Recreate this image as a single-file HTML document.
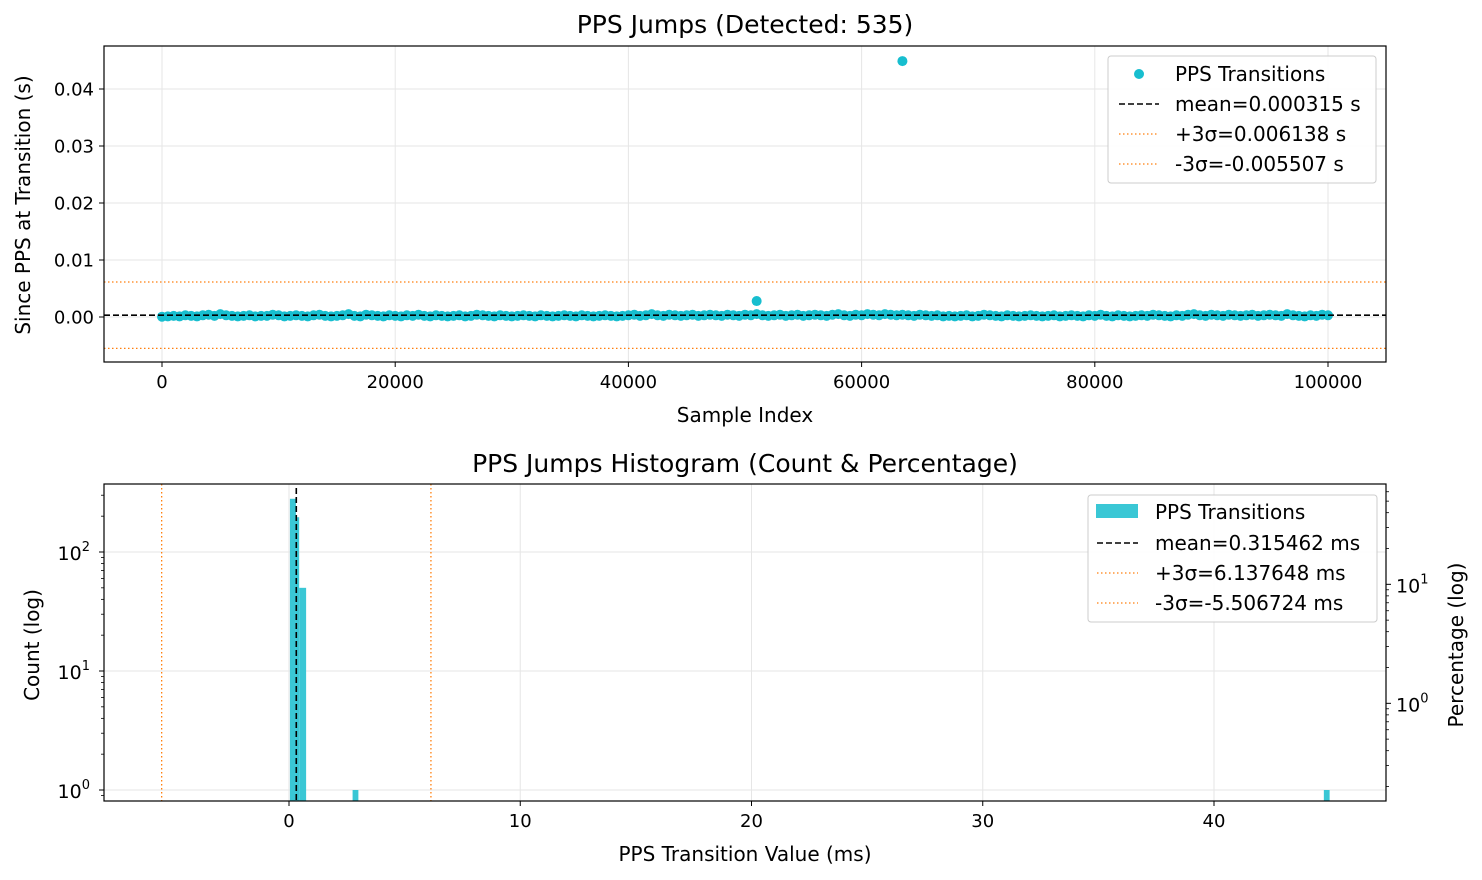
<!DOCTYPE html>
<html><head><meta charset="utf-8">
<style>
html,body{margin:0;padding:0;background:#fff;}
svg{display:block;font-family:"DejaVu Sans","Liberation Sans",sans-serif;}
</style></head>
<body>
<svg id="fig" width="1482" height="880" xmlns="http://www.w3.org/2000/svg">
<rect x="0" y="0" width="1482" height="880" fill="#fff"/>
<g id="topPanel"></g>
<g id="botPanel"></g>
</svg>
<script>
// ---------- data: top scatter ----------
const scatterIdx = [0,500,1000,1500,2000,2500,3000,3500,4000,4500,5000,5500,6000,6500,7000,7500,8000,8500,9000,9500,10000,10500,11000,11500,12000,12500,13000,13500,14000,14500,15000,15500,16000,16500,17000,17500,18000,18500,19000,19500,20000,20500,21000,21500,22000,22500,23000,23500,24000,24500,25000,25500,26000,26500,27000,27500,28000,28500,29000,29500,30000,30500,31000,31500,32000,32500,33000,33500,34000,34500,35000,35500,36000,36500,37000,37500,38000,38500,39000,39500,40000,40500,41000,41500,42000,42500,43000,43500,44000,44500,45000,45500,46000,46500,47000,47500,48000,48500,49000,49500,50000,50500,51000,51500,52000,52500,53000,53500,54000,54500,55000,55500,56000,56500,57000,57500,58000,58500,59000,59500,60000,60500,61000,61500,62000,62500,63000,63500,64000,64500,65000,65500,66000,66500,67000,67500,68000,68500,69000,69500,70000,70500,71000,71500,72000,72500,73000,73500,74000,74500,75000,75500,76000,76500,77000,77500,78000,78500,79000,79500,80000,80500,81000,81500,82000,82500,83000,83500,84000,84500,85000,85500,86000,86500,87000,87500,88000,88500,89000,89500,90000,90500,91000,91500,92000,92500,93000,93500,94000,94500,95000,95500,96000,96500,97000,97500,98000,98500,99000,99500,100000];
const scatterVal = [0.00005,0.0001,0.0002,0.0001,0.0003,0.0002,0.0001,0.0003,0.0004,0.0002,0.0005,0.0003,0.0002,0.0001,0.0002,0.0003,0.0001,0.0002,0.0002,0.0004,0.0003,0.0001,0.0002,0.0003,0.0002,0.0001,0.0003,0.0004,0.0002,0.0001,0.0002,0.0003,0.0005,0.0002,0.0001,0.0004,0.0003,0.0002,0.0001,0.0003,0.0002,0.0001,0.0003,0.0002,0.0004,0.0002,0.0001,0.0003,0.0002,0.0001,0.0002,0.0003,0.0001,0.0002,0.0004,0.0003,0.0002,0.0001,0.0003,0.0002,0.0001,0.0002,0.0003,0.0002,0.0001,0.0003,0.0002,0.0001,0.0002,0.0003,0.0002,0.0001,0.0003,0.0002,0.0001,0.0002,0.0003,0.0002,0.0001,0.0002,0.0003,0.0004,0.0002,0.0003,0.0005,0.0003,0.0002,0.0004,0.0003,0.0002,0.0003,0.0004,0.0002,0.0003,0.0004,0.0003,0.0002,0.0004,0.0003,0.0002,0.0004,0.0003,0.0005,0.0003,0.0002,0.0003,0.0004,0.0002,0.0003,0.0004,0.0002,0.0003,0.0004,0.0003,0.0002,0.0004,0.0005,0.0003,0.0002,0.0004,0.0003,0.0005,0.0004,0.0003,0.0005,0.0004,0.0003,0.0004,0.0003,0.0002,0.0004,0.0003,0.0002,0.0003,0.0001,0.0002,0.0001,0.0002,0.0003,0.0001,0.0002,0.0004,0.0003,0.0002,0.0001,0.0003,0.0002,0.0001,0.0002,0.0003,0.0002,0.0001,0.0002,0.0003,0.0001,0.0002,0.0003,0.0002,0.0001,0.0003,0.0002,0.0004,0.0002,0.0001,0.0003,0.0002,0.0001,0.0002,0.0003,0.0002,0.0004,0.0003,0.0002,0.0001,0.0003,0.0002,0.0004,0.0005,0.0003,0.0002,0.0004,0.0003,0.0002,0.0004,0.0003,0.0002,0.0003,0.0004,0.0002,0.0003,0.0004,0.0003,0.0002,0.0005,0.0003,0.0002,0.0001,0.0003,0.0002,0.0004,0.0003,0.0002,0.0003,0.0002,0.0001,0.0002,0.0003];
const outlierIdx = [51000, 63500];
const outlierVal = [0.0028, 0.0449];
const topXTicks = [0,20000,40000,60000,80000,100000];
const topYTicks = [0.00,0.01,0.02,0.03,0.04];
const topMean = 0.000315, topPlus = 0.006138, topMinus = -0.005507;

// ---------- data: histogram ----------
const binStart = [0.04, 0.30, 0.44, 2.75, 44.75];
const binEnd   = [0.30, 0.44, 0.74, 3.00, 45.00];
const binCount = [280, 196, 50, 1, 1];
const totalCount = 535;
const histXTicks = [0,10,20,30,40];
const histMean = 0.315462, histPlus = 6.137648, histMinus = -5.506724;

const NS = "http://www.w3.org/2000/svg";
function mk(parent, tag, attrs, text){
  const e = document.createElementNS(NS, tag);
  for (const k in attrs) e.setAttribute(k, attrs[k]);
  if (text !== undefined) e.textContent = text;
  parent.appendChild(e); return e;
}
const CYAN = "#17becf", ORANGE = "#ff7f0e";
const FT = 18, FL = 20, FA = 20, FTI = 25;

// ================= TOP =================
const topG = document.getElementById('topPanel');
const T = {l:104, r:1386, t:46, b:362};
const tx = v => 162 + (v - 0) * (1328 - 162) / 100000;
const ty = v => 317 - v * 5700;
topXTicks.forEach(v => {
  const g = mk(topG,'line',{x1:tx(v),x2:tx(v),y1:T.t,y2:T.b,stroke:'#e6e6e6','stroke-width':1});
  
  
  mk(topG,'line',{x1:tx(v),x2:tx(v),y1:T.b,y2:T.b+5,stroke:'#000','stroke-width':1});
  const t = mk(topG,'text',{x:tx(v),y:T.b+26,'text-anchor':'middle','font-size':FT},String(v));
  
  
});
topYTicks.forEach(v => {
  const g = mk(topG,'line',{x1:T.l,x2:T.r,y1:ty(v),y2:ty(v),stroke:'#e6e6e6','stroke-width':1});
  
  
  mk(topG,'line',{x1:T.l-5,x2:T.l,y1:ty(v),y2:ty(v),stroke:'#000','stroke-width':1});
  const t = mk(topG,'text',{x:T.l-10,y:ty(v)+6.5,'text-anchor':'end','font-size':FT},v.toFixed(2));
  
  
});
scatterIdx.forEach((xv,i) => {
  if (scatterVal[i] === undefined) return;
  const c = mk(topG,'circle',{cx:tx(xv),cy:ty(scatterVal[i]),r:5,fill:CYAN});
  
  
});
outlierIdx.forEach((xv,i) => {
  const c = mk(topG,'circle',{cx:tx(xv),cy:ty(outlierVal[i]),r:5,fill:CYAN});
  
  
});
let l1 = mk(topG,'line',{x1:T.l,x2:T.r,y1:ty(topMean),y2:ty(topMean),stroke:'#000','stroke-width':1.6,'stroke-dasharray':'6,3'});


let l2 = mk(topG,'line',{x1:T.l,x2:T.r,y1:ty(topPlus),y2:ty(topPlus),stroke:ORANGE,'stroke-width':1.3,'stroke-dasharray':'1.5,2.5'});


let l3 = mk(topG,'line',{x1:T.l,x2:T.r,y1:ty(topMinus),y2:ty(topMinus),stroke:ORANGE,'stroke-width':1.3,'stroke-dasharray':'1.5,2.5'});


let fr = mk(topG,'rect',{x:T.l,y:T.t,width:T.r-T.l,height:T.b-T.t,fill:'none',stroke:'#000','stroke-width':1.2});


let tt = mk(topG,'text',{x:745,y:33,'text-anchor':'middle','font-size':FTI},'PPS Jumps (Detected: 535)');


let xl = mk(topG,'text',{x:745,y:422,'text-anchor':'middle','font-size':FA},'Sample Index');


let yl = mk(topG,'text',{x:0,y:0,'text-anchor':'middle','font-size':FA,transform:'translate(30,205) rotate(-90)'},'Since PPS at Transition (s)');


// legend top
const lg = mk(topG,'g',{});


mk(lg,'rect',{x:1108,y:56,width:268,height:127,rx:3,fill:'#fff','fill-opacity':0.85,stroke:'#ccc'});
mk(lg,'circle',{cx:1139,cy:74,r:5,fill:CYAN});
mk(lg,'line',{x1:1119,x2:1159,y1:104,y2:104,stroke:'#000','stroke-width':1.6,'stroke-dasharray':'6,3'});
mk(lg,'line',{x1:1119,x2:1159,y1:134,y2:134,stroke:ORANGE,'stroke-width':1.3,'stroke-dasharray':'1.5,2.5'});
mk(lg,'line',{x1:1119,x2:1159,y1:164,y2:164,stroke:ORANGE,'stroke-width':1.3,'stroke-dasharray':'1.5,2.5'});
[['PPS Transitions',81],['mean=0.000315 s',111],['+3σ=0.006138 s',141],['-3σ=-0.005507 s',171]].forEach(([s,y])=>{
  const t = mk(lg,'text',{x:1175,y:y,'font-size':FL},s);
  
  
});

// ================= BOTTOM =================
const botG = document.getElementById('botPanel');
const B = {l:104, r:1386, t:484, b:801};
const hx = v => 289 + v * 23.125;
const hy = c => 790 - Math.log10(c) * 119;
histXTicks.forEach(v => {
  const g = mk(botG,'line',{x1:hx(v),x2:hx(v),y1:B.t,y2:B.b,stroke:'#e6e6e6','stroke-width':1});
  
  
  mk(botG,'line',{x1:hx(v),x2:hx(v),y1:B.b,y2:B.b+5,stroke:'#000','stroke-width':1});
  const t = mk(botG,'text',{x:hx(v),y:B.b+26,'text-anchor':'middle','font-size':FT},String(v));
  
  
});
[0,1,2].forEach(p => {
  const y = hy(Math.pow(10,p));
  const g = mk(botG,'line',{x1:B.l,x2:B.r,y1:y,y2:y,stroke:'#e6e6e6','stroke-width':1});
  
  
  mk(botG,'line',{x1:B.l-5,x2:B.l,y1:y,y2:y,stroke:'#000','stroke-width':1});
  const t = mk(botG,'text',{x:B.l-14,y:y+8,'text-anchor':'end','font-size':FT+1});
  
  
  mk(t,'tspan',{},'10');
  mk(t,'tspan',{dy:-9,'font-size':13},String(p));
});
for (let p=-1;p<3;p++) for (let m=2;m<10;m++){
  const c = m*Math.pow(10,p); const y = hy(c);
  if (y>B.t && y<B.b) mk(botG,'line',{x1:B.l-3,x2:B.l,y1:y,y2:y,stroke:'#000','stroke-width':0.8});
}
const py = pct => hy(pct/100*totalCount);
[0,1].forEach(p => {
  const y = py(Math.pow(10,p));
  mk(botG,'line',{x1:B.r,x2:B.r+5,y1:y,y2:y,stroke:'#000','stroke-width':1});
  const t = mk(botG,'text',{x:B.r+10,y:y+8,'font-size':FT+1});
  
  
  mk(t,'tspan',{},'10');
  mk(t,'tspan',{dy:-9,'font-size':13},String(p));
});
for (let p=-1;p<2;p++) for (let m=2;m<10;m++){
  const y = py(m*Math.pow(10,p));
  if (y>B.t && y<B.b) mk(botG,'line',{x1:B.r,x2:B.r+3,y1:y,y2:y,stroke:'#000','stroke-width':0.8});
}
binStart.forEach((s,i) => {
  const y = hy(binCount[i]);
  const r = mk(botG,'rect',{x:hx(s),y:y,width:hx(binEnd[i])-hx(s),height:B.b-y,fill:'#3ac7d5'});
  
  
});
let m1 = mk(botG,'line',{x1:hx(histMean),x2:hx(histMean),y1:B.t+4,y2:B.b,stroke:'#000','stroke-width':1.6,'stroke-dasharray':'6,3'});


let m2 = mk(botG,'line',{x1:hx(histPlus),x2:hx(histPlus),y1:B.t,y2:B.b,stroke:ORANGE,'stroke-width':1.3,'stroke-dasharray':'1.5,2.5'});


let m3 = mk(botG,'line',{x1:hx(histMinus),x2:hx(histMinus),y1:B.t,y2:B.b,stroke:ORANGE,'stroke-width':1.3,'stroke-dasharray':'1.5,2.5'});


let fb = mk(botG,'rect',{x:B.l,y:B.t,width:B.r-B.l,height:B.b-B.t,fill:'none',stroke:'#000','stroke-width':1.2});


let bt = mk(botG,'text',{x:745,y:472,'text-anchor':'middle','font-size':FTI},'PPS Jumps Histogram (Count & Percentage)');


let bx = mk(botG,'text',{x:745,y:861,'text-anchor':'middle','font-size':FA},'PPS Transition Value (ms)');


let by = mk(botG,'text',{x:0,y:0,'text-anchor':'middle','font-size':FA,transform:'translate(39,645) rotate(-90)'},'Count (log)');


let byr = mk(botG,'text',{x:0,y:0,'text-anchor':'middle','font-size':FA,transform:'translate(1463,645) rotate(-90)'},'Percentage (log)');


const lb = mk(botG,'g',{});


mk(lb,'rect',{x:1088,y:495,width:289,height:127,rx:3,fill:'#fff','fill-opacity':0.85,stroke:'#ccc'});
mk(lb,'rect',{x:1096,y:504,width:42,height:14,fill:'#3ac7d5'});
mk(lb,'line',{x1:1097,x2:1138,y1:543,y2:543,stroke:'#000','stroke-width':1.6,'stroke-dasharray':'6,3'});
mk(lb,'line',{x1:1097,x2:1138,y1:573,y2:573,stroke:ORANGE,'stroke-width':1.3,'stroke-dasharray':'1.5,2.5'});
mk(lb,'line',{x1:1097,x2:1138,y1:603,y2:603,stroke:ORANGE,'stroke-width':1.3,'stroke-dasharray':'1.5,2.5'});
[['PPS Transitions',519],['mean=0.315462 ms',550],['+3σ=6.137648 ms',580],['-3σ=-5.506724 ms',610]].forEach(([s,y])=>{
  const t = mk(lb,'text',{x:1155,y:y,'font-size':FL},s);
  
  
});
</script>
</body></html>
